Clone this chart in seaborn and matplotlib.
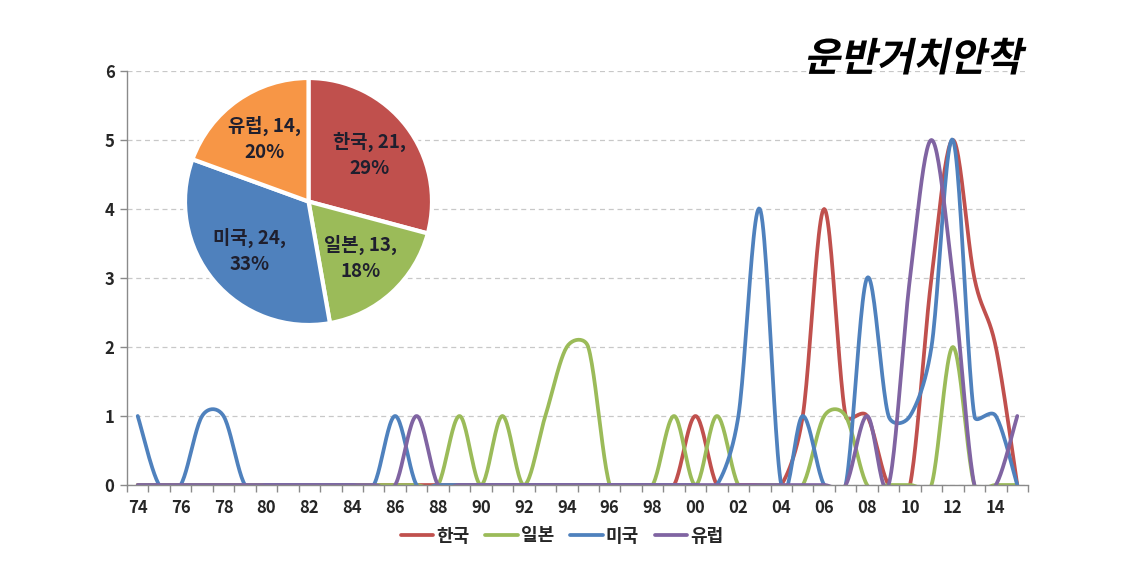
import numpy as np
import pandas as pd
import matplotlib
matplotlib.use("Agg")
import matplotlib.pyplot as plt
from matplotlib.lines import Line2D
from matplotlib.ticker import FixedLocator
from matplotlib.patheffects import AbstractPathEffect
from matplotlib.transforms import Affine2D
import seaborn as sns

years = list(range(1974, 2016))
korea = [0] * 26 + [1, 0, 0, 0, 0, 1, 4, 1, 1, 0, 0, 3, 5, 3, 2, 0]
japan = [0] * 15 + [1, 0, 1, 0, 1, 2, 2, 0, 0, 0, 1, 0, 1, 0, 0, 0, 0, 1, 1, 0, 0, 0, 0, 2, 0, 0, 0]
usa = [1, 0, 0, 1, 1, 0, 0, 0, 0, 0, 0, 0] + [1] + [0] * 15 + [1, 4, 0, 1, 0, 0, 3, 1, 1, 2, 5, 1, 1, 0]
europe = [0] * 13 + [1] + [0] * 20 + [1, 0, 3, 5, 3, 0, 0, 1]

countries = ["한국", "일본", "미국", "유럽"]
line_colors = ["#C0504D", "#9BBB59", "#4F81BD", "#8064A2"]
pie_values = [21, 13, 24, 14]
pie_pcts = [29, 18, 33, 20]
pie_colors = ["#C0504D", "#9BBB59", "#4F81BD", "#F79646"]
title = "운반거치안착"

# plot area in pixels (figure is 1130 x 570)
AX_LEFT, AX_BOTTOM, AX_W, AX_H = 127, 485, 901, 414


def smooth(xs, ys, sx, sy, n=24):
    # Excel-like smoothed line: Catmull-Rom Bezier, control arm capped by chord length
    p = np.column_stack([np.asarray(xs) * sx, np.asarray(ys) * sy]).astype(float)
    ext = np.vstack([p[0], p, p[-1]])
    t = np.linspace(0, 1, n, endpoint=False)[:, None]
    out = []

    def arm(tan, chord):
        ln = np.linalg.norm(tan)
        if ln == 0:
            return tan
        d = min(ln / 6, 0.5 * chord)
        return tan / ln * d

    for i in range(len(p) - 1):
        p0, p1, p2, p3 = ext[i], ext[i + 1], ext[i + 2], ext[i + 3]
        chord = np.linalg.norm(p2 - p1)
        c1 = p1 + arm(p2 - p0, chord)
        c2 = p2 - arm(p3 - p1, chord)
        out.append((1 - t) ** 3 * p1 + 3 * (1 - t) ** 2 * t * c1 + 3 * (1 - t) * t ** 2 * c2 + t ** 3 * p2)
    out.append(p[-1:])
    c = np.vstack(out)
    return c[:, 0] / sx, c[:, 1] / sy


class Slant(AbstractPathEffect):
    # draws text with a sheared (oblique) glyph outline
    def __init__(self, deg=12):
        super().__init__()
        self.deg = deg

    def draw_path(self, renderer, gc, tpath, affine, rgbFace=None):
        renderer.draw_path(gc, tpath, Affine2D().skew_deg(self.deg, 0) + affine, rgbFace)


sns.set_style("white")
plt.rcParams["font.family"] = ["Noto Sans CJK KR", "DejaVu Sans"]

idx = np.arange(len(years))
sx = AX_W / len(years)
sy = AX_H / 6
frames = []
for name, vals in zip(countries, [korea, japan, usa, europe]):
    cx, cy = smooth(idx, vals, sx, sy)
    frames.append(pd.DataFrame({"x": cx, "y": cy, "country": name}))
df = pd.concat(frames, ignore_index=True)

fig = plt.figure(figsize=(11.3, 5.7), dpi=100)
ax = fig.add_axes([AX_LEFT / 1130, 1 - AX_BOTTOM / 570, AX_W / 1130, AX_H / 570])

sns.lineplot(data=df, x="x", y="y", hue="country", palette=line_colors,
             hue_order=countries, sort=False, estimator=None, linewidth=2.7,
             legend=False, ax=ax)

ax.set_xlim(-0.5, len(years) - 0.5)
ax.set_ylim(0, 6)
ax.set_xlabel("")
ax.set_ylabel("")

ax.set_xticks(idx[::2])
ax.set_xticklabels([f"{y % 100:02d}" for y in years[::2]])
ax.xaxis.set_minor_locator(FixedLocator(np.arange(-0.5, len(years), 1.0)))
ax.tick_params(axis="x", which="major", length=0, pad=10, labelsize=12)
ax.tick_params(axis="x", which="minor", length=5, direction="out", color="#8A8A8A", width=1, bottom=True)
ax.set_yticks(range(7))
ax.tick_params(axis="y", length=5, direction="out", color="#8A8A8A", width=1, left=True, labelsize=12, pad=4)
for lab in ax.get_xticklabels() + ax.get_yticklabels():
    lab.set_fontweight("bold")

ax.yaxis.grid(True, linestyle=(0, (4, 3)), color="#C8C8C8", linewidth=0.9)
ax.set_axisbelow(True)
for s in ["top", "right"]:
    ax.spines[s].set_visible(False)
for s in ["left", "bottom"]:
    ax.spines[s].set_color("#8A8A8A")
    ax.spines[s].set_linewidth(1)

# inset pie
pax = fig.add_axes([185 / 1130, 1 - 325 / 570, 247 / 1130, 247 / 570])
labels = [f"{n}, {v},\n{p}%" for n, v, p in zip(countries, pie_values, pie_pcts)]
wedges, _ = pax.pie(pie_values, colors=pie_colors, startangle=90, counterclock=False,
                    wedgeprops=dict(edgecolor="white", linewidth=3))
for w, lab in zip(wedges, labels):
    ang = np.deg2rad((w.theta1 + w.theta2) / 2)
    pax.text(0.62 * np.cos(ang), 0.62 * np.sin(ang), lab, ha="center", va="center",
             fontsize=13.5, fontweight="bold", color="#1F1F2E", linespacing=1.45)
pax.set_xlim(-1.0, 1.0)
pax.set_ylim(-1.0, 1.0)
pax.set_aspect("equal")
pax.axis("off")

fig.text(913 / 1130, 1 - 71 / 570, title, ha="center", va="baseline",
         fontsize=28.5, fontweight="bold", color="black", path_effects=[Slant(12)])

handles = [Line2D([0], [0], color=c, linewidth=2.7) for c in line_colors]
fig.legend(handles, countries, loc="center", bbox_to_anchor=(562 / 1130, 1 - 536 / 570),
           ncol=4, frameon=False, handlelength=1.8, handletextpad=0.15, columnspacing=0.9,
           prop=dict(weight="bold", size=13))

fig.savefig("out.png", dpi=100)
